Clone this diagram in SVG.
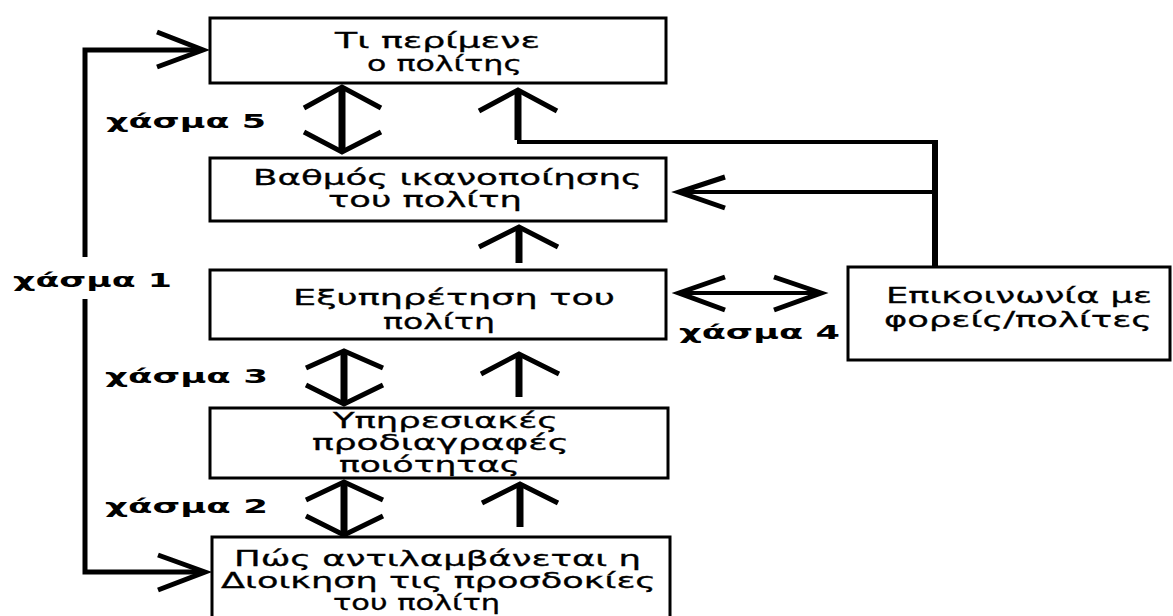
<svg xmlns="http://www.w3.org/2000/svg" width="1173" height="616" viewBox="0 0 1173 616">
  <style>
    .box { fill: #ffffff; stroke: #000000; stroke-width: 3; }
    .txt { font-family: "DejaVu Sans", Verdana, sans-serif; font-size: 21px; fill: #000000; stroke: #000000; stroke-width: 0.3; }
    .gap { font-family: "DejaVu Sans", Verdana, sans-serif; font-size: 20px; font-weight: bold; fill: #000000; }
    .line { fill: none; stroke: #000000; stroke-width: 5; stroke-linecap: butt; stroke-linejoin: miter; }
    .thin { fill: none; stroke: #000000; stroke-width: 4; }
    .shaft { fill: none; stroke: #000000; stroke-width: 7; }
    .head { fill: none; stroke: #000000; stroke-width: 5; stroke-linejoin: miter; stroke-miterlimit: 10; }
  </style>
  <rect width="1173" height="616" fill="#ffffff"/>

  <!-- connectors -->
  <g id="connectors">
    <!-- outer loop on the left (gap 1) -->
    <path class="line" d="M 200 50 L 85 50 L 85 257" stroke-width="6"/>
    <path class="line" d="M 85 299 L 85 572 L 202 572" stroke-width="6"/>
    <polyline class="head" points="157,32 203,50 157,67"/>
    <polyline class="head" points="158,555 205,572 158,590"/>

    <!-- gap 5 double arrow -->
    <line class="shaft" x1="342" y1="89" x2="342" y2="150"/>
    <polyline class="head" points="304,108 342,87 381,108"/>
    <polyline class="head" points="304,132 342,152 381,132"/>

    <!-- feedback from communication to expectations -->
    <path class="thin" d="M 519 92 L 519 142 L 935 142"/>
    <line class="shaft" x1="518" y1="92" x2="518" y2="140"/>
    <polyline class="head" points="479,111 518,90 557,111"/>
    <line x1="935" y1="140" x2="935" y2="268" stroke="#000" stroke-width="6"/>

    <!-- communication to satisfaction -->
    <line class="thin" x1="681" y1="192" x2="935" y2="192"/>
    <polyline class="head" points="725,177 679,192 725,208"/>

    <!-- service to satisfaction -->
    <line class="shaft" x1="519" y1="229" x2="519" y2="263"/>
    <polyline class="head" points="479,247 519,227 558,247"/>

    <!-- gap 4 double arrow -->
    <line class="thin" x1="681" y1="293" x2="819" y2="293"/>
    <polyline class="head" points="725,277 679,293 725,310"/>
    <polyline class="head" points="774,277 821,293 774,310"/>

    <!-- gap 3 double arrow -->
    <line class="shaft" x1="344" y1="353" x2="344" y2="402"/>
    <polyline class="head" points="306,368 344,351 383,368"/>
    <polyline class="head" points="306,385 344,404 383,385"/>

    <!-- specifications to service -->
    <line class="shaft" x1="519" y1="356" x2="519" y2="397"/>
    <polyline class="head" points="481,374 519,354 559,374"/>

    <!-- gap 2 double arrow -->
    <line class="shaft" x1="344" y1="484" x2="344" y2="533"/>
    <polyline class="head" points="306,500 344,482 383,500"/>
    <polyline class="head" points="306,516 344,535 383,516"/>

    <!-- perception to specifications -->
    <line class="shaft" x1="520" y1="486" x2="520" y2="527"/>
    <polyline class="head" points="482,503 520,484 558,503"/>
  </g>

  <!-- gap labels -->
  <g id="gap-labels">
    <text class="gap" x="106" y="128" textLength="160" lengthAdjust="spacingAndGlyphs">χάσμα 5</text>
    <text class="gap" x="13" y="287" textLength="159" lengthAdjust="spacingAndGlyphs">χάσμα 1</text>
    <text class="gap" x="105" y="383" textLength="163" lengthAdjust="spacingAndGlyphs">χάσμα 3</text>
    <text class="gap" x="105" y="513" textLength="163" lengthAdjust="spacingAndGlyphs">χάσμα 2</text>
    <text class="gap" x="679" y="339" textLength="161" lengthAdjust="spacingAndGlyphs">χάσμα 4</text>
  </g>

  <g id="expectations">
    <rect class="box" x="210" y="18" width="456" height="65"/>
    <text class="txt" x="335" y="48" textLength="205" lengthAdjust="spacingAndGlyphs">Τι περίμενε</text>
    <text class="txt" x="367" y="71" textLength="155" lengthAdjust="spacingAndGlyphs">ο πολίτης</text>
  </g>

  <g id="satisfaction">
    <rect class="box" x="210" y="158" width="456" height="63"/>
    <text class="txt" x="253" y="185" textLength="389" lengthAdjust="spacingAndGlyphs">Βαθμός ικανοποίησης</text>
    <text class="txt" x="328" y="207" textLength="194" lengthAdjust="spacingAndGlyphs">του πολίτη</text>
  </g>

  <g id="service">
    <rect class="box" x="210" y="270" width="456" height="69"/>
    <text class="txt" x="293" y="305" textLength="322" lengthAdjust="spacingAndGlyphs">Εξυπηρέτηση του</text>
    <text class="txt" x="383" y="329" textLength="112" lengthAdjust="spacingAndGlyphs">πολίτη</text>
  </g>

  <g id="specifications">
    <rect class="box" x="210" y="408" width="458" height="70"/>
    <text class="txt" x="333" y="428" textLength="225" lengthAdjust="spacingAndGlyphs">Υπηρεσιακές</text>
    <text class="txt" x="312" y="450" textLength="257" lengthAdjust="spacingAndGlyphs">προδιαγραφές</text>
    <text class="txt" x="339" y="472" textLength="181" lengthAdjust="spacingAndGlyphs">ποιότητας</text>
  </g>

  <g id="perception">
    <rect class="box" x="212" y="537" width="458" height="90"/>
    <text class="txt" x="234" y="566" textLength="407" lengthAdjust="spacingAndGlyphs">Πώς αντιλαμβάνεται η</text>
    <text class="txt" x="221" y="588" textLength="435" lengthAdjust="spacingAndGlyphs">Διοικηση τις προσδοκίες</text>
    <text class="txt" x="333" y="610" textLength="167" lengthAdjust="spacingAndGlyphs">του πολίτη</text>
  </g>

  <g id="communication">
    <rect class="box" x="848" y="267" width="322" height="93"/>
    <text class="txt" x="886" y="303" textLength="266" lengthAdjust="spacingAndGlyphs">Επικοινωνία με</text>
    <text class="txt" x="884" y="327" textLength="268" lengthAdjust="spacingAndGlyphs">φορείς/πολίτες</text>
  </g>
</svg>
